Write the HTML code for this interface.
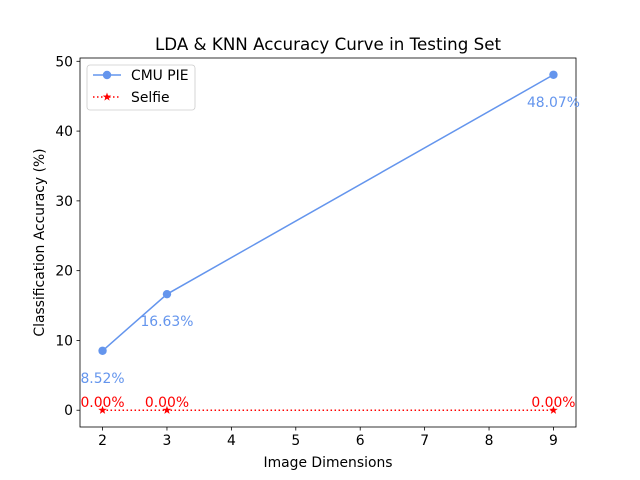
<!DOCTYPE html>
<html><head><meta charset="utf-8"><style>
body{margin:0;background:#fff;}
svg{display:block;font-family:"DejaVu Sans","Liberation Sans",sans-serif;}
</style></head><body>
<svg id="chart" width="640" height="480"></svg>
<script>
const xValues=[2,3,9];
const cmuValues=[8.52,16.63,48.07];
const selfieValues=[0,0,0];
const xTicks=[2,3,4,5,6,7,8,9];
const yTicks=[0,10,20,30,40,50];
const L=80,R=576,T=58,B=427;
const xmin=1.65,xmax=9.35,ymin=-2.4035,ymax=50.4735;
const sx=v=>L+(v-xmin)/(xmax-xmin)*(R-L);
const sy=v=>B-(v-ymin)/(ymax-ymin)*(B-T);
const svg=document.getElementById('chart');
const NS='http://www.w3.org/2000/svg';
const FS=13.9;
function mk(tag,attrs,parent){const e=document.createElementNS(NS,tag);for(const k in attrs)e.setAttribute(k,attrs[k]);(parent||svg).appendChild(e);return e;}
function txt(s,attrs){const e=mk('text',attrs);e.textContent=s;return e;}
let e;
e=txt('LDA & KNN Accuracy Curve in Testing Set',{x:328,y:50,'text-anchor':'middle','font-size':16.7});


e=mk('rect',{x:L,y:T,width:R-L,height:B-T,fill:'none',stroke:'#000','stroke-width':0.8});


xTicks.forEach(t=>{
 const x=sx(t);
 mk('line',{x1:x,x2:x,y1:B,y2:B+3.5,stroke:'#000','stroke-width':0.8});
 e=txt(String(t),{x:x,y:B+18,'text-anchor':'middle','font-size':FS});
 
 
});
yTicks.forEach(t=>{
 const y=sy(t);
 mk('line',{x1:L,x2:L-3.5,y1:y,y2:y,stroke:'#000','stroke-width':0.8});
 e=txt(String(t),{x:L-7,y:y+5,'text-anchor':'end','font-size':FS});
 
 
});
e=txt('Image Dimensions',{x:328,y:467,'text-anchor':'middle','font-size':FS});


e=txt('Classification Accuracy (%)',{x:0,y:0,'text-anchor':'middle','font-size':FS,transform:`translate(44,${(T+B)/2}) rotate(-90)`});


e=mk('polyline',{points:xValues.map((x,i)=>sx(x)+','+sy(cmuValues[i])).join(' '),fill:'none',stroke:'#6495ED','stroke-width':1.5});


xValues.forEach((x,i)=>{
 e=mk('circle',{cx:sx(x),cy:sy(cmuValues[i]),r:4.2,fill:'#6495ED'});
 
 
 e=txt(cmuValues[i].toFixed(2)+'%',{x:sx(x),y:sy(cmuValues[i])+32,'text-anchor':'middle','font-size':FS,fill:'#6495ED'});
 
 
});
e=mk('polyline',{points:xValues.map((x,i)=>sx(x)+','+sy(selfieValues[i])).join(' '),fill:'none',stroke:'red','stroke-width':1.5,'stroke-dasharray':'1.5,2.5'});


function star(cx,cy,r){let p=[];for(let k=0;k<10;k++){const a=-Math.PI/2+k*Math.PI/5;const rr=k%2?r*0.4:r;p.push((cx+rr*Math.cos(a))+','+(cy+rr*Math.sin(a)));}return p.join(' ');}
xValues.forEach((x,i)=>{
 e=mk('polygon',{points:star(sx(x),sy(selfieValues[i]),4.5),fill:'red'});
 
 
 e=txt(selfieValues[i].toFixed(2)+'%',{x:sx(x),y:sy(selfieValues[i])-3,'text-anchor':'middle','font-size':FS,fill:'red'});
 
 
});
const g=mk('g',{});


mk('rect',{x:87,y:65,width:108,height:45,rx:3,fill:'#fff',stroke:'#ccc','stroke-width':0.8},g);
mk('line',{x1:93,x2:121,y1:75,y2:75,stroke:'#6495ED','stroke-width':1.5},g);
mk('circle',{cx:107,cy:75,r:4.2,fill:'#6495ED'},g);
e=mk('text',{x:131,y:80,'font-size':FS},g);e.textContent='CMU PIE';


mk('line',{x1:93,x2:121,y1:97,y2:97,stroke:'red','stroke-width':1.5,'stroke-dasharray':'1.5,2.5'},g);
mk('polygon',{points:star(107,97,4.5),fill:'red'},g);
e=mk('text',{x:131,y:102,'font-size':FS},g);e.textContent='Selfie';


</script>
</body></html>
